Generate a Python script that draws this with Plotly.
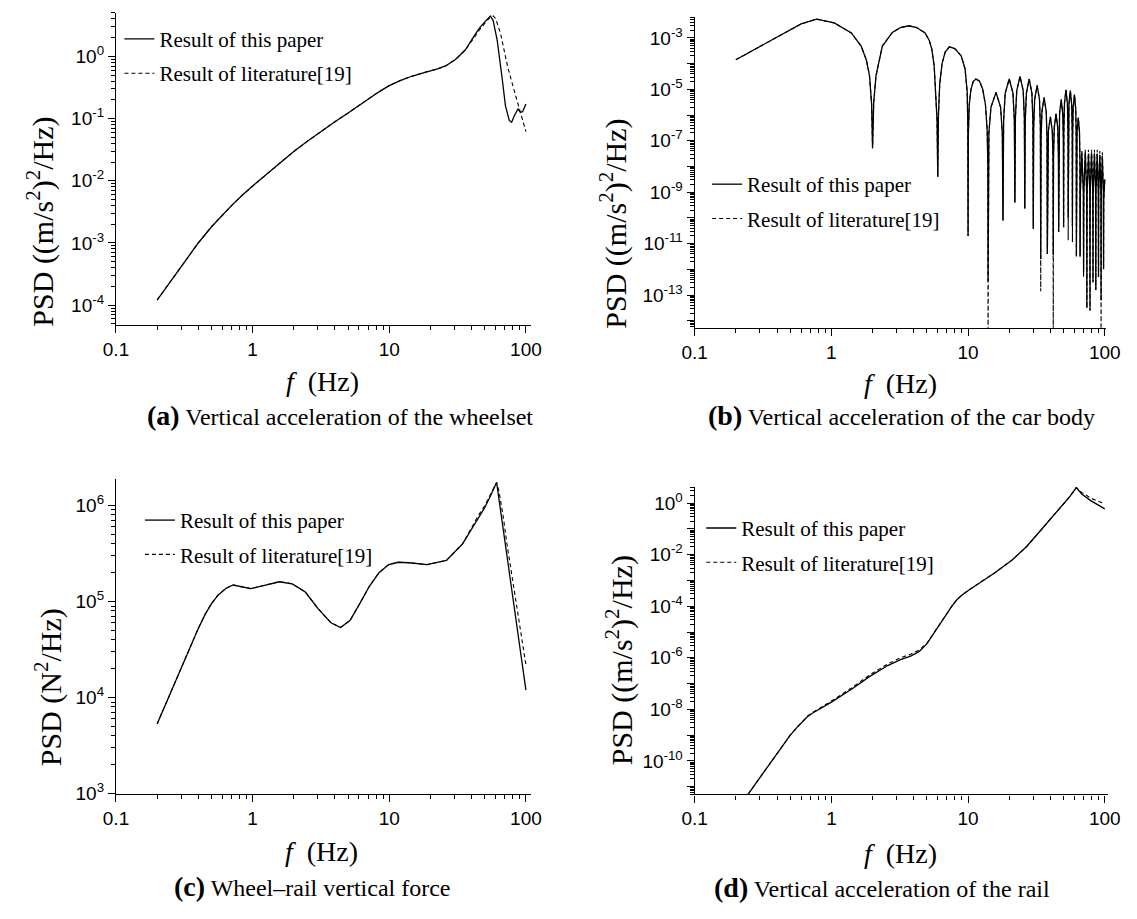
import plotly.graph_objects as go

W, H = 1137, 919

# ---------------- (a) Vertical acceleration of the wheelset ----------------
a_f_paper = [0.2, 0.25, 0.3, 0.4, 0.5, 0.6, 0.7, 0.85, 1.0, 1.15, 1.5, 2.0, 2.5, 3.0, 4.0,
             5.0, 6.0, 7.0, 8.0, 9.0, 10.0, 12.0, 14.6, 18.0, 22.6, 26.0, 28.5, 30.5, 33.0,
             36.2, 40.5, 45.5, 51.2, 54.9, 57.5, 61.6, 66.7, 70.8, 75.5, 78.6, 82.4, 87.5,
             91.0, 94.5, 100.0]
a_psd_paper = [1.21e-4, 2.4e-4, 4.17e-4, 1.0e-3, 1.82e-3, 2.82e-3, 3.98e-3, 6.03e-3, 8.32e-3,
               1.07e-2, 1.74e-2, 2.95e-2, 4.27e-2, 5.75e-2, 8.91e-2, 0.123, 0.164, 0.207,
               0.251, 0.295, 0.339, 0.407, 0.479, 0.55, 0.631, 0.708, 0.794, 0.891, 1.05,
               1.29, 1.91, 2.82, 3.8, 4.47, 3.8, 1.82, 0.479, 0.162, 0.0933, 0.0871, 0.112,
               0.143, 0.126, 0.129, 0.172]
a_f_lit = [0.2, 0.25, 0.3, 0.4, 0.5, 0.6, 0.7, 0.85, 1.0, 1.15, 1.5, 2.0, 2.5, 3.0, 4.0,
           5.0, 6.0, 7.0, 8.0, 9.0, 10.0, 12.0, 14.6, 18.0, 22.6, 26.0, 28.5, 30.5, 33.0,
           36.2, 40.5, 45.5, 51.2, 55.0, 57.5, 60.0, 65.2, 73.4, 82.8, 93.3, 100.0]
a_psd_lit = [1.21e-4, 2.4e-4, 4.17e-4, 1.0e-3, 1.82e-3, 2.82e-3, 3.98e-3, 6.03e-3, 8.32e-3,
             1.07e-2, 1.74e-2, 2.95e-2, 4.27e-2, 5.75e-2, 8.91e-2, 0.123, 0.164, 0.207,
             0.251, 0.295, 0.339, 0.407, 0.479, 0.55, 0.631, 0.708, 0.794, 0.891, 1.05,
             1.29, 1.82, 2.63, 3.63, 4.27, 4.47, 4.07, 2.34, 0.692, 0.263, 0.1, 0.0617]

# ---------------- (b) Vertical acceleration of the car body ----------------
# frequencies (Hz) and log10 of the PSD
b_f = [0.2, 0.3, 0.46, 0.6, 0.78, 1.05, 1.4, 1.65, 1.8, 1.9, 1.97, 2.0,
       2.04, 2.12, 2.36, 2.79, 3.2, 3.68, 4.2, 4.85, 5.2, 5.43, 5.65, 5.8, 5.93, 6.0,
       6.07, 6.2, 6.45, 6.8, 7.3, 8.0, 8.9, 9.5, 9.85, 9.96, 10.0,
       10.04, 10.2, 10.5, 10.9, 11.4, 12.1, 12.8, 13.4, 13.8, 13.95, 14.0,
       14.2, 14.7, 16.0, 17.3, 17.8, 18.0,
       18.2, 18.7, 20.0, 21.3, 21.8, 22.0,
       22.2, 22.7, 24.0, 25.3, 25.8, 26.0,
       26.2, 26.7, 28.0, 29.3, 29.8, 30.0,
       30.2, 30.7, 32.0, 33.3, 33.8, 34.0,
       34.2, 34.7, 36.0, 37.3, 37.8, 38.0,
       38.2, 38.7, 40.0, 41.3, 41.8, 42.0,
       42.2, 42.7, 44.0, 45.3, 45.8, 46.0,
       46.2, 46.7, 48.0, 49.3, 49.8, 50.0,
       50.2, 50.7, 52.0, 53.3, 53.8, 54.0,
       54.2, 54.7, 56.0, 57.3, 57.8, 58.0,
       58.2, 58.7, 60.0, 61.3, 61.8, 62.0,
       62.2, 62.7, 64.0, 65.3, 65.8, 66.0,
       66.3, 68.0, 69.7, 70.0,
       70.3, 72.0, 73.7, 74.0,
       74.3, 76.0, 77.7, 78.0,
       78.3, 80.0, 81.7, 82.0,
       82.3, 84.0, 85.7, 86.0,
       86.3, 88.0, 89.7, 90.0,
       90.3, 92.0, 93.7, 94.0,
       94.3, 96.0, 97.7, 98.0,
       98.3, 100.0]
b_log_paper = [-3.85, -3.33, -2.79, -2.46, -2.27, -2.42, -2.81, -3.32, -3.85, -4.47, -5.6, -7.29,
               -5.5, -4.47, -3.32, -2.79, -2.6, -2.53, -2.6, -2.81, -3.1, -3.45, -4.1, -5.11, -6.2, -8.4,
               -6.0, -4.8, -4.0, -3.55, -3.35, -3.42, -3.7, -4.2, -5.1, -6.5, -10.7,
               -6.8, -5.6, -5.0, -4.7, -4.6, -4.68, -5.0, -5.6, -6.6, -8.0, -12.45,
               -6.7, -5.7, -5.12, -5.7, -6.7, -10.1,
               -6.2, -5.15, -4.6, -5.15, -6.2, -9.4,
               -6.1, -5.05, -4.5, -5.05, -6.1, -9.63,
               -6.2, -5.15, -4.6, -5.15, -6.2, -10.42,
               -6.45, -5.4, -4.85, -5.4, -6.45, -11.6,
               -6.9, -5.87, -5.32, -5.87, -6.9, -11.4,
               -7.65, -6.6, -6.07, -6.6, -7.65, -11.45,
               -7.55, -6.5, -5.95, -6.5, -7.55, -10.55,
               -7.0, -5.95, -5.4, -5.95, -7.0, -10.36,
               -6.6, -5.55, -5.02, -5.55, -6.6, -9.98,
               -6.65, -5.6, -5.05, -5.6, -6.65, -10.3,
               -6.8, -5.75, -5.2, -5.75, -6.8, -11.5,
               -7.7, -6.65, -6.1, -6.65, -7.7, -11.5,
               -9.0, -7.5, -9.0, -12.1,
               -9.0, -7.45, -9.0, -13.5,
               -9.0, -7.5, -9.0, -13.6,
               -9.0, -7.45, -9.0, -12.5,
               -9.0, -7.5, -9.0, -12.8,
               -9.0, -7.5, -9.0, -12.3,
               -9.0, -7.55, -9.0, -13.2,
               -9.0, -7.6, -9.0, -12.0,
               -9.3, -8.5]
b_log_lit = [-3.85, -3.33, -2.79, -2.46, -2.27, -2.42, -2.81, -3.32, -3.85, -4.47, -5.6, -7.29,
             -5.5, -4.47, -3.32, -2.79, -2.6, -2.53, -2.6, -2.81, -3.1, -3.45, -4.1, -5.11, -6.2, -8.4,
             -6.0, -4.8, -4.0, -3.55, -3.35, -3.42, -3.7, -4.2, -5.1, -6.5, -10.7,
             -6.8, -5.6, -5.0, -4.7, -4.6, -4.68, -5.0, -5.6, -6.6, -8.0, -14.6,
             -6.7, -5.7, -5.12, -5.7, -6.7, -10.1,
             -6.2, -5.15, -4.6, -5.15, -6.2, -9.4,
             -6.1, -5.05, -4.5, -5.05, -6.1, -9.63,
             -6.2, -5.15, -4.6, -5.15, -6.2, -10.42,
             -6.45, -5.4, -4.85, -5.4, -6.45, -12.85,
             -6.9, -5.87, -5.32, -5.87, -6.9, -11.4,
             -7.65, -6.6, -6.07, -6.6, -7.65, -14.6,
             -7.55, -6.5, -5.95, -6.5, -7.55, -10.55,
             -7.0, -5.95, -5.4, -5.95, -7.0, -10.36,
             -6.6, -5.55, -5.02, -5.55, -6.6, -10.87,
             -6.65, -5.6, -5.05, -5.6, -6.65, -10.94,
             -6.8, -5.75, -5.2, -5.75, -6.8, -11.5,
             -7.7, -6.65, -6.1, -6.65, -7.7, -11.5,
             -8.9, -7.35, -8.9, -12.3,
             -8.9, -7.35, -8.9, -13.5,
             -8.9, -7.35, -8.9, -13.6,
             -8.9, -7.35, -8.9, -12.5,
             -8.9, -7.35, -8.9, -12.8,
             -8.9, -7.35, -8.9, -12.3,
             -8.9, -7.4, -8.9, -14.6,
             -8.9, -7.45, -8.9, -12.0,
             -9.3, -8.5]
b_psd_paper = [10.0 ** v for v in b_log_paper]
b_psd_lit = [10.0 ** v for v in b_log_lit]

# ---------------- (c) Wheel-rail vertical force ----------------
c_f_paper = [0.2, 0.25, 0.3, 0.35, 0.4, 0.45, 0.5, 0.56, 0.64, 0.72, 0.82, 0.97, 1.2, 1.57,
             1.95, 2.43, 3.0, 3.74, 4.4, 5.17, 6.08, 7.15, 8.41, 9.9, 11.6, 14.0, 18.9,
             26.2, 34.3, 45.0, 50.0, 55.0, 58.9, 61.0, 63.0, 66.7, 72.3, 81.3, 91.5, 100.0]
c_psd_paper = [5.33e3, 1.12e4, 2.04e4, 3.39e4, 5.25e4, 7.41e4, 9.55e4, 1.175e5, 1.38e5,
               1.49e5, 1.445e5, 1.365e5, 1.47e5, 1.61e5, 1.53e5, 1.26e5, 8.51e4, 6.03e4,
               5.37e4, 6.38e4, 9.55e4, 1.445e5, 2.0e5, 2.43e5, 2.57e5, 2.54e5, 2.43e5,
               2.69e5, 3.98e5, 7.59e5, 9.55e5, 1.26e6, 1.58e6, 1.74e6, 1.26e6, 7.08e5,
               3.16e5, 9.55e4, 2.82e4, 1.2e4]
c_f_lit = [0.2, 0.25, 0.3, 0.35, 0.4, 0.45, 0.5, 0.56, 0.64, 0.72, 0.82, 0.97, 1.2, 1.57,
           1.95, 2.43, 3.0, 3.74, 4.4, 5.17, 6.08, 7.15, 8.41, 9.9, 11.6, 14.0, 18.9,
           26.2, 34.3, 45.0, 50.0, 55.0, 58.9, 61.0, 63.5, 68.0, 72.3, 81.3, 91.5, 100.0]
c_psd_lit = [5.33e3, 1.12e4, 2.04e4, 3.39e4, 5.25e4, 7.41e4, 9.55e4, 1.175e5, 1.38e5,
             1.49e5, 1.445e5, 1.365e5, 1.47e5, 1.61e5, 1.53e5, 1.26e5, 8.51e4, 6.03e4,
             5.37e4, 6.38e4, 9.55e4, 1.445e5, 2.0e5, 2.43e5, 2.57e5, 2.54e5, 2.43e5,
             2.69e5, 3.98e5, 7.94e5, 1.0e6, 1.32e6, 1.6e6, 1.74e6, 1.41e6, 7.94e5,
             4.17e5, 1.38e5, 4.9e4, 2.19e4]

# ---------------- (d) Vertical acceleration of the rail ----------------
d_f_paper = [0.2, 0.245, 0.3, 0.4, 0.5, 0.56, 0.61, 0.67, 0.73, 0.8, 0.9, 1.0, 1.42, 1.91,
             2.58, 3.2, 3.8, 4.4, 5.0, 5.5, 6.34, 7.0, 7.59, 8.3, 9.08, 10.2, 11.6, 15.6,
             21.0, 26.7, 34.0, 43.2, 54.9, 61.9, 67.8, 78.8, 100.0]
d_psd_paper = [1.1e-12, 5.0e-12, 2.24e-11, 1.9e-10, 1.0e-9, 2.0e-9, 3.3e-9, 5.25e-9, 7.24e-9,
               9.55e-9, 1.38e-8, 1.9e-8, 6.3e-8, 1.9e-7, 5.0e-7, 8.5e-7, 1.17e-6, 1.78e-6,
               3.55e-6, 7.6e-6, 2.5e-5, 5.6e-5, 1.0e-4, 1.82e-4, 2.8e-4, 4.4e-4, 6.8e-4,
               1.95e-3, 6.3e-3, 2.04e-2, 8.9e-2, 0.389, 1.7, 4.07, 2.29, 1.26, 0.603]
d_f_lit = [0.2, 0.245, 0.3, 0.4, 0.5, 0.56, 0.61, 0.67, 0.73, 0.8, 0.9, 1.0, 1.42, 1.91,
           2.58, 3.2, 3.8, 4.4, 5.0, 5.5, 6.34, 7.0, 7.59, 8.3, 9.08, 10.2, 11.6, 15.6,
           21.0, 26.7, 34.0, 43.2, 54.9, 61.9, 67.8, 78.8, 97.0]
d_psd_lit = [1.1e-12, 5.0e-12, 2.24e-11, 1.9e-10, 1.0e-9, 2.0e-9, 3.4e-9, 5.5e-9, 7.6e-9,
             1.0e-8, 1.45e-8, 2.1e-8, 7.08e-8, 2.19e-7, 5.75e-7, 1.0e-6, 1.38e-6, 2.04e-6,
             3.7e-6, 7.8e-6, 2.5e-5, 5.6e-5, 1.0e-4, 1.82e-4, 2.8e-4, 4.4e-4, 6.8e-4,
             1.95e-3, 6.3e-3, 2.04e-2, 8.9e-2, 0.389, 1.7, 4.07, 2.63, 1.58, 1.0]

# ---------------- ticks ----------------
x_tickvals = [0.1, 1, 10, 100]
x_ticktext = ["0.1", "1", "10", "100"]
a_tickvals = [1e-4, 1e-3, 1e-2, 1e-1, 1e0]
a_ticktext = ["10<sup>-4</sup>", "10<sup>-3</sup>", "10<sup>-2</sup>", "10<sup>-1</sup>", "10<sup>0</sup>"]
b_tickvals = [1e-14, 1e-13, 1e-12, 1e-11, 1e-10, 1e-9, 1e-8, 1e-7, 1e-6, 1e-5, 1e-4, 1e-3]
b_ticktext = ["", "10<sup>-13</sup>", "", "10<sup>-11</sup>", "", "10<sup>-9</sup>", "",
              "10<sup>-7</sup>", "", "10<sup>-5</sup>", "", "10<sup>-3</sup>"]
c_tickvals = [1e3, 1e4, 1e5, 1e6]
c_ticktext = ["10<sup>3</sup>", "10<sup>4</sup>", "10<sup>5</sup>", "10<sup>6</sup>"]
d_tickvals = [1e-11, 1e-10, 1e-9, 1e-8, 1e-7, 1e-6, 1e-5, 1e-4, 1e-3, 1e-2, 1e-1, 1e0]
d_ticktext = ["", "10<sup>-10</sup>", "", "10<sup>-8</sup>", "", "10<sup>-6</sup>", "",
              "10<sup>-4</sup>", "", "10<sup>-2</sup>", "", "10<sup>0</sup>"]


def minor_vals(e_lo, e_hi):
    # minor tick positions 2..9 x 10^e for each decade
    return [m * 10.0 ** e for e in range(e_lo, e_hi + 1) for m in range(2, 10)]


names = ["Result of this paper", "Result of literature[19]"]
captions = ["<b><span style='font-size:28px'>(a)</span></b> Vertical acceleration of the wheelset",
            "<b><span style='font-size:28px'>(b)</span></b> Vertical acceleration of the car body",
            "<b><span style='font-size:28px'>(c)</span></b> Wheel\u2013rail vertical force",
            "<b><span style='font-size:28px'>(d)</span></b> Vertical acceleration of the rail"]
ytitles = ["PSD ((m/s<sup>2</sup>)<sup>2</sup>/Hz)", "PSD ((m/s<sup>2</sup>)<sup>2</sup>/Hz)",
           "PSD (N<sup>2</sup>/Hz)", "PSD ((m/s<sup>2</sup>)<sup>2</sup>/Hz)"]

SANS = "Liberation Sans, Arial, sans-serif"
SERIF = "Liberation Serif, Times New Roman, serif"


def px(x):
    return x / W


def py(y):
    return 1 - y / H


fig = go.Figure()

panels = [
    (a_f_paper, a_psd_paper, a_f_lit, a_psd_lit, "x", "y", "legend"),
    (b_f, b_psd_paper, b_f, b_psd_lit, "x2", "y2", "legend2"),
    (c_f_paper, c_psd_paper, c_f_lit, c_psd_lit, "x3", "y3", "legend3"),
    (d_f_paper, d_psd_paper, d_f_lit, d_psd_lit, "x4", "y4", "legend4"),
]
for fp, pp, fl, pl, xa, ya, lg in panels:
    fig.add_trace(go.Scatter(x=fp, y=pp, mode="lines", name=names[0], xaxis=xa, yaxis=ya,
                             legend=lg, legendgroup=lg + "p",
                             line=dict(color="black", width=1.3)))
    fig.add_trace(go.Scatter(x=fl, y=pl, mode="lines", name=names[1], xaxis=xa, yaxis=ya,
                             legend=lg, legendgroup=lg + "l",
                             line=dict(color="black", width=1.1, dash="4px,3px")))


def axis_cfg(domain, anchor, rng, tv, tt, mv):
    return dict(type="log", domain=domain, anchor=anchor, range=rng,
                tickmode="array", tickvals=tv, ticktext=tt,
                showline=True, linecolor="black", linewidth=1.3,
                ticks="outside", ticklen=7, tickwidth=1.3, tickcolor="black",
                showgrid=False, zeroline=False,
                tickfont=dict(family=SANS, size=19, color="black"),
                minor=dict(tickmode="array", tickvals=mv, ticks="outside", ticklen=4,
                           tickwidth=1.2, tickcolor="black", showgrid=False))


x_minor = minor_vals(-1, 1)
fig.update_layout(
    width=W, height=H, margin=dict(l=0, r=0, t=0, b=0),
    paper_bgcolor="white", plot_bgcolor="white", showlegend=True,
    xaxis=axis_cfg([px(105.5), px(531)], "y", [-1, 2.04], x_tickvals, x_ticktext, x_minor),
    yaxis=axis_cfg([py(329), py(13)], "x", [-4.32, 0.70], a_tickvals, a_ticktext, minor_vals(-5, 0)),
    xaxis2=axis_cfg([px(698.3), px(1120)], "y2", [-1, 2.012], x_tickvals, x_ticktext, x_minor),
    yaxis2=axis_cfg([py(331.7), py(16.7)], "x2", [-14.27, -2.17], b_tickvals, b_ticktext, minor_vals(-15, -3)),
    xaxis3=axis_cfg([px(105.5), px(531)], "y3", [-1, 2.04], x_tickvals, x_ticktext, x_minor),
    yaxis3=axis_cfg([py(803.3), py(485)], "x3", [3, 6.275], c_tickvals, c_ticktext, minor_vals(3, 6)),
    xaxis4=axis_cfg([px(698.3), px(1122)], "y4", [-1, 2.026], x_tickvals, x_ticktext, x_minor),
    yaxis4=axis_cfg([py(804), py(493)], "x4", [-11.30, 0.625], d_tickvals, d_ticktext, minor_vals(-12, 0)),
)

legend_pos = {"legend": (109, 19), "legend2": (711, 166), "legend3": (130, 506), "legend4": (705, 514)}
for key, (lx, ly) in legend_pos.items():
    fig.update_layout({key: dict(x=px(lx), y=py(ly), xanchor="left", yanchor="top",
                                 bgcolor="rgba(0,0,0,0)", borderwidth=0,
                                 traceorder="grouped", tracegroupgap=4,
                                 font=dict(family=SERIF, size=21, color="black"))})

annotations = []
for (cx, cy), t in zip([(28, 224), (615, 226), (36.5, 696), (621, 668)], ytitles):
    annotations.append(dict(x=px(cx), y=py(cy), xref="paper", yref="paper", text=t,
                            textangle=-90, showarrow=False, xanchor="center", yanchor="middle",
                            font=dict(family=SERIF, size=30, color="black")))
for cx, cy in [(317, 386), (909, 388), (316, 862), (909, 864)]:
    annotations.append(dict(x=px(cx), y=py(cy), xref="paper", yref="paper",
                            text="<i>f</i>\u00a0 (Hz)", showarrow=False,
                            xanchor="center", yanchor="middle",
                            font=dict(family=SERIF, size=28, color="black")))
for (cx, cy), t in zip([(335, 421), (910, 421), (307, 897), (890, 898)], captions):
    annotations.append(dict(x=px(cx), y=py(cy), xref="paper", yref="paper", text=t,
                            showarrow=False, xanchor="center", yanchor="middle",
                            font=dict(family=SERIF, size=24, color="black")))
fig.update_layout(annotations=annotations)

fig.write_html("out.html")
